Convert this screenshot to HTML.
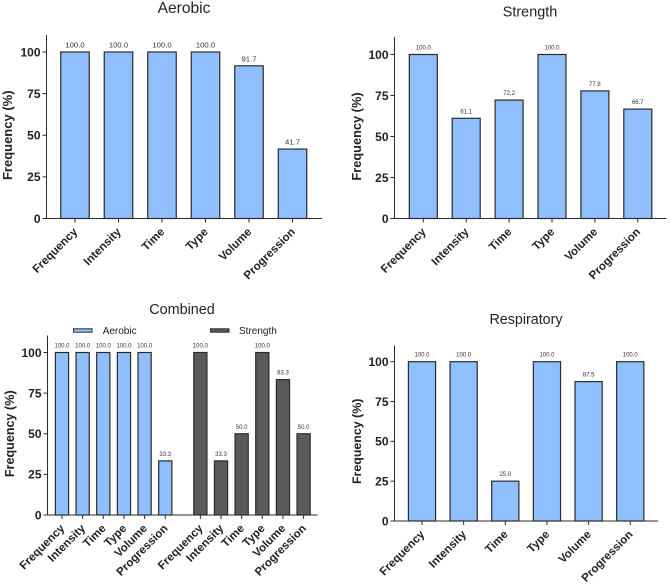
<!DOCTYPE html>
<html>
<head>
<meta charset="utf-8">
<title>Frequency charts</title>
<style>
html,body{margin:0;padding:0;background:#fff;width:670px;height:585px;overflow:hidden}
svg{display:block;font-family:"Liberation Sans",Arial,sans-serif;filter:blur(0.3px)}
</style>
</head>
<body>
<svg id="figure" width="670" height="585" viewBox="0 0 670 585" xmlns="http://www.w3.org/2000/svg"></svg>
<script>
const categories = ['Frequency','Intensity','Time','Type','Volume','Progression'];
const yTicks = [0,25,50,75,100];
const aerobicValues = [100,100,100,100,91.7,41.7];
const strengthValues = [100,61.1,72.2,100,77.8,66.7];
const combinedAerobicValues = [100,100,100,100,100,33.3];
const combinedStrengthValues = [100,33.3,50,100,83.3,50];
const respiratoryValues = [100,100,25,100,87.5,100];

const BLUE = '#90bfff', DARK = '#5a5a5a', INK = '#2b2b2b';
const NS = 'http://www.w3.org/2000/svg';
const svg = document.getElementById('figure');

function make(parent, tag, attrs, name, text) {
  const el = document.createElementNS(NS, tag);
  for (const k in attrs) el.setAttribute(k, attrs[k]);
  
  
  if (text !== undefined) el.textContent = text;
  parent.appendChild(el);
  return el;
}

function drawPanel(p) {
  const g = make(svg, 'g', {}, p.name + '-chart');
  const yScale = v => p.y0 + (p.y100 - p.y0) * v / 100;
  const xScale = i => p.xStart + p.step * i;

  make(g, 'text', {x: p.titleX, y: p.titleY, 'text-anchor': 'middle', 'font-size': p.titleSize, fill: '#222'}, 'chart-title', p.title);
  make(g, 'text', {transform: 'translate(' + p.yTitleX + ',' + ((p.y0 + p.y100) / 2) + ') rotate(-90)', 'text-anchor': 'middle', 'font-size': p.yTitleSize, 'font-weight': 'bold', fill: '#222'}, 'y-axis-title', 'Frequency (%)');

  p.series.forEach(s => {
    s.values.forEach((v, i) => {
      const slot = i + s.offset;
      const cx = xScale(slot);
      const top = yScale(v);
      make(g, 'rect', {x: cx - p.barW / 2, y: top, width: p.barW, height: p.y0 - top, fill: s.fill, stroke: INK, 'stroke-width': 1.2}, 'bar-' + s.key + '-' + categories[i].toLowerCase());
      make(g, 'text', {x: cx, y: top - p.valueGap, 'text-anchor': 'middle', 'font-size': p.valueSize, fill: '#333'}, 'value-label', v.toFixed(1));
      make(g, 'line', {x1: cx, x2: cx, y1: p.y0, y2: p.y0 + 4, stroke: INK, 'stroke-width': 1}, 'x-tick');
      make(g, 'text', {transform: 'translate(' + (cx + 3.2) + ',' + (p.y0 + 14) + ') rotate(-45)', 'text-anchor': 'end', 'font-size': p.catSize, 'font-weight': 'bold', fill: '#222'}, 'x-tick-label', categories[i]);
    });
  });

  make(g, 'line', {x1: p.axisX, x2: p.axisX, y1: p.axisTop, y2: p.y0 + 0.5, stroke: INK, 'stroke-width': 1}, 'y-axis');
  make(g, 'line', {x1: p.axisX, x2: p.axisEnd, y1: p.y0, y2: p.y0, stroke: INK, 'stroke-width': 1}, 'x-axis');
  yTicks.forEach(t => {
    const y = yScale(t);
    make(g, 'line', {x1: p.axisX - 4, x2: p.axisX, y1: y, y2: y, stroke: INK, 'stroke-width': 1}, 'y-tick');
    make(g, 'text', {x: p.axisX - 6, y: y + 4.3, 'text-anchor': 'end', 'font-size': 12, 'font-weight': 'bold', fill: '#222'}, 'y-tick-label', t);
  });
  return g;
}

drawPanel({name:'aerobic', title:'Aerobic', titleX:184, titleY:13, titleSize:15.6, yTitleX:12, yTitleSize:13,
  axisX:46.5, axisTop:35, axisEnd:322, y0:218.5, y100:52, xStart:75, step:43.5, barW:28.5, valueGap:4.5, valueSize:7.7, catSize:11.5,
  series:[{key:'aerobic', values:aerobicValues, fill:BLUE, offset:0}]});

drawPanel({name:'strength', title:'Strength', titleX:530, titleY:16.5, titleSize:14.4, yTitleX:361, yTitleSize:12.8,
  axisX:394.5, axisTop:37, axisEnd:666.5, y0:218.5, y100:54.5, xStart:423.3, step:42.9, barW:28, valueGap:5, valueSize:6, catSize:11.5,
  series:[{key:'strength', values:strengthValues, fill:BLUE, offset:0}]});

const combined = drawPanel({name:'combined', title:'Combined', titleX:182, titleY:314, titleSize:14.4, yTitleX:14, yTitleSize:12.6,
  axisX:47.5, axisTop:335.5, axisEnd:317.5, y0:515, y100:352.5, xStart:62, step:20.65, barW:13.2, valueGap:5, valueSize:6, catSize:11.5,
  series:[{key:'aerobic', values:combinedAerobicValues, fill:BLUE, offset:0},{key:'strength', values:combinedStrengthValues, fill:DARK, offset:6.7}]});

const legendA = make(combined, 'g', {}, 'legend-entry-aerobic');
make(legendA, 'rect', {x:73.5, y:328.8, width:18.5, height:3.4, fill:BLUE, stroke:INK, 'stroke-width':1}, 'legend-swatch-aerobic');
make(legendA, 'text', {x:102.7, y:334, 'font-size':10, fill:'#222'}, 'legend-label-aerobic', 'Aerobic');
const legendS = make(combined, 'g', {}, 'legend-entry-strength');
make(legendS, 'rect', {x:210.5, y:328.8, width:18.5, height:3.4, fill:DARK, stroke:INK, 'stroke-width':1}, 'legend-swatch-strength');
make(legendS, 'text', {x:239, y:334, 'font-size':10, fill:'#222'}, 'legend-label-strength', 'Strength');

drawPanel({name:'respiratory', title:'Respiratory', titleX:526, titleY:324, titleSize:14.3, yTitleX:361, yTitleSize:12.4,
  axisX:394.5, axisTop:345.5, axisEnd:658, y0:521, y100:361.7, xStart:422, step:41.65, barW:27.2, valueGap:5, valueSize:6, catSize:11.5,
  series:[{key:'respiratory', values:respiratoryValues, fill:BLUE, offset:0}]});
</script>
</body>
</html>
